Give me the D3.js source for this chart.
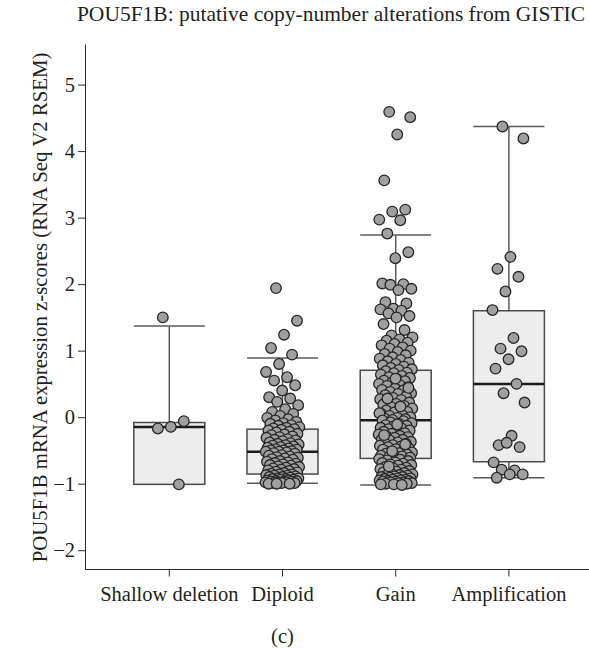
<!DOCTYPE html>
<html>
<head>
<meta charset="utf-8">
<script src="https://cdn.jsdelivr.net/npm/d3@7"></script>
<style>
  body { margin: 0; background: #fff; }
  svg { display: block; }
  text { font-family: "Liberation Serif", "Times New Roman", serif; fill: #231f20; }
</style>
</head>
<body>
<svg id="chart" width="589" height="650"></svg>
<script>
// categories and box statistics
const categories = ["Shallow deletion", "Diploid", "Gain", "Amplification"];
const q1 = [-1.01, -0.855, -0.62, -0.67];
const medians = [-0.146, -0.52, -0.045, 0.50];
const q3 = [-0.08, -0.18, 0.705, 1.60];
const whiskerLow = [-1.01, -0.995, -1.02, -0.91];
const whiskerHigh = [1.37, 0.89, 2.74, 4.37];
const yTicks = [-2, -1, 0, 1, 2, 3, 4, 5];

// per-sample z-scores (estimated from the dot clouds)
const shallowDeletion = [1.50, -0.06, -0.146, -0.17, -1.01];
const diploid = [
  1.94, 1.45, 1.24, 1.04, 0.94, 0.80, 0.68, 0.60, 0.55, 0.48, 0.40, 0.30, 0.28, 0.23, 0.18, 0.12,
  0.08, 0.05, 0.02, -0.01, -0.03, -0.05, -0.07, -0.09, -0.10, -0.12, -0.13, -0.15, -0.16, -0.17, -0.18, -0.19,
  -0.20, -0.22, -0.23, -0.25, -0.26, -0.27, -0.29, -0.30, -0.31, -0.33, -0.34, -0.35, -0.36, -0.38, -0.39,
  -0.40, -0.41, -0.42, -0.43, -0.44, -0.45, -0.46, -0.47, -0.48, -0.49, -0.50, -0.50, -0.51, -0.52, -0.52,
  -0.53, -0.54, -0.55, -0.57, -0.58, -0.59, -0.60, -0.61, -0.62, -0.63, -0.64, -0.66, -0.67, -0.68, -0.69,
  -0.70, -0.71, -0.72, -0.73, -0.74, -0.75, -0.76, -0.77, -0.78, -0.79, -0.80, -0.81, -0.82, -0.83, -0.84, -0.85,
  -0.86, -0.86, -0.87, -0.88, -0.88, -0.89, -0.90, -0.90, -0.91, -0.92, -0.92, -0.93, -0.93, -0.94, -0.94,
  -0.95, -0.95, -0.96, -0.96, -0.97, -0.97, -0.97, -0.98, -0.98, -0.98, -0.99, -0.99, -0.99, -1.00, -1.00, -1.00
];
const gain = [
  4.59, 4.51, 4.25, 3.56, 3.12, 3.09, 2.97, 2.96, 2.76, 2.48, 2.39, 2.01, 2.00, 1.99, 1.93, 1.91, 1.73, 1.71,
  1.63, 1.62, 1.60, 1.56, 1.52, 1.50, 1.40, 1.31,
  1.23, 1.20, 1.17, 1.15, 1.12, 1.10, 1.08, 1.05, 1.03, 1.00, 0.98, 0.95, 0.93, 0.90, 0.88, 0.86, 0.84, 0.82,
  0.80, 0.78, 0.76, 0.74, 0.72, 0.71,
  0.69, 0.67, 0.66, 0.64, 0.62, 0.60, 0.59, 0.57, 0.55, 0.54, 0.52, 0.50, 0.48, 0.47, 0.45, 0.43, 0.41, 0.40,
  0.38, 0.36, 0.35, 0.33, 0.31, 0.29, 0.27, 0.26, 0.24, 0.22, 0.20, 0.19, 0.17, 0.15, 0.13, 0.12, 0.10, 0.08,
  0.07, 0.05, 0.03, 0.02, 0.00, -0.01, -0.02, -0.03, -0.04, 0.06, 0.16, 0.28, 0.44, 0.58,
  -0.05, -0.06, -0.08, -0.09, -0.10, -0.12, -0.13, -0.14, -0.16, -0.17, -0.18, -0.20, -0.21, -0.22, -0.24,
  -0.25, -0.26, -0.28, -0.29, -0.30, -0.31, -0.33, -0.34, -0.35, -0.37, -0.38, -0.39, -0.40, -0.42, -0.43,
  -0.44, -0.45, -0.47, -0.48, -0.49, -0.50, -0.52, -0.53, -0.54, -0.55, -0.56, -0.57, -0.58, -0.59, -0.60,
  -0.61, -0.11, -0.27, -0.41, -0.51,
  -0.63, -0.64, -0.65, -0.66, -0.68, -0.69, -0.70, -0.71, -0.72, -0.73, -0.75, -0.76, -0.77, -0.78, -0.79,
  -0.80, -0.81, -0.82, -0.83, -0.84, -0.85, -0.86, -0.87, -0.88, -0.88, -0.89, -0.90, -0.90, -0.91, -0.92,
  -0.92, -0.93, -0.94, -0.94, -0.95, -0.95, -0.96, -0.96, -0.97, -0.97, -0.98, -0.98, -0.99, -0.99, -1.00,
  -1.00, -1.01, -1.01, -1.02, -0.74
];
const amplification = [
  4.37, 4.19, 2.41, 2.23, 2.11, 1.89, 1.61, 1.19, 1.03, 0.99, 0.87, 0.73, 0.50, 0.36, 0.22,
  -0.28, -0.42, -0.45, -0.385, -0.68, -0.80, -0.79, -0.86, -0.86, -0.91
];
const samples = [shallowDeletion, diploid, gain, amplification];

const svg = d3.select("#chart");

const x = d3.scaleBand()
  .domain(categories)
  .range([112.7, 565.5]);

const y = d3.scaleLinear()
  .domain([-2.29, 5.61])
  .range([569.5, 44]);

const boxW = 71;
const jitter = 17;
const axisColor = "#2b2b2b";
const labelSize = "20.5px";

// title
svg.append("text")
  .attr("x", 331)
  .attr("y", 21)
  .attr("text-anchor", "middle")
  .style("font-size", "21.5px")
  .text("POU5F1B: putative copy-number alterations from GISTIC");

// y axis
const yAxis = svg.append("g")
  .attr("transform", "translate(85,0)")
  .call(d3.axisLeft(y).tickValues(yTicks).tickSize(7).tickSizeOuter(0).tickPadding(3)
    .tickFormat(d => d < 0 ? "\u2212" + Math.abs(d) : d));
yAxis.select(".domain").attr("stroke", axisColor);
yAxis.selectAll(".tick line").attr("stroke", axisColor);
yAxis.selectAll(".tick text").style("font-size", labelSize).attr("fill", "#231f20").style("font-family", null);

// x axis
const xAxis = svg.append("g")
  .attr("transform", "translate(0,569.5)")
  .call(d3.axisBottom(x).tickSize(7).tickSizeOuter(0).tickPadding(10));
xAxis.select(".domain").remove();
xAxis.selectAll(".tick line").attr("stroke", axisColor);
xAxis.selectAll(".tick text").style("font-size", labelSize).attr("fill", "#231f20").style("font-family", null);
svg.append("line")
  .attr("x1", 85).attr("x2", 589)
  .attr("y1", 569.5).attr("y2", 569.5)
  .attr("stroke", axisColor);

// y axis label
svg.append("text")
  .attr("transform", "translate(47," + y(1.65) + ") rotate(-90)")
  .attr("text-anchor", "middle")
  .style("font-size", "20.8px")
  .text("POU5F1B mRNA expression z-scores (RNA Seq V2 RSEM)");

// panel tag
svg.append("text")
  .attr("x", x("Diploid") + x.bandwidth() / 2)
  .attr("y", 643)
  .attr("text-anchor", "middle")
  .style("font-size", labelSize)
  .text("(c)");

// boxes
const boxes = svg.append("g")
  .selectAll("g")
  .data(categories)
  .join("g")
  .attr("transform", d => "translate(" + (x(d) + x.bandwidth() / 2) + ",0)");

boxes.append("line")
  .attr("y1", (d, i) => y(whiskerHigh[i]))
  .attr("y2", (d, i) => y(q3[i]))
  .attr("stroke", "#5a5a5a").attr("stroke-width", 1.5);
boxes.append("line")
  .attr("y1", (d, i) => y(q1[i]))
  .attr("y2", (d, i) => y(whiskerLow[i]))
  .attr("stroke", "#5a5a5a").attr("stroke-width", 1.5);
boxes.append("line")
  .attr("x1", -boxW / 2).attr("x2", boxW / 2)
  .attr("y1", (d, i) => y(whiskerHigh[i]))
  .attr("y2", (d, i) => y(whiskerHigh[i]))
  .attr("stroke", "#5a5a5a").attr("stroke-width", 1.5);
boxes.append("line")
  .attr("x1", -boxW / 2).attr("x2", boxW / 2)
  .attr("y1", (d, i) => y(whiskerLow[i]))
  .attr("y2", (d, i) => y(whiskerLow[i]))
  .attr("stroke", "#5a5a5a").attr("stroke-width", 1.5);
boxes.append("rect")
  .attr("x", -boxW / 2)
  .attr("width", boxW)
  .attr("y", (d, i) => y(q3[i]))
  .attr("height", (d, i) => y(q1[i]) - y(q3[i]))
  .attr("fill", "#ededed")
  .attr("stroke", "#4a4a4a").attr("stroke-width", 1.5);
boxes.append("line")
  .attr("x1", -boxW / 2).attr("x2", boxW / 2)
  .attr("y1", (d, i) => y(medians[i]))
  .attr("y2", (d, i) => y(medians[i]))
  .attr("stroke", "#1a1a1a").attr("stroke-width", 2.5);

// dots, spread sideways with a fixed golden-ratio sequence
const dots = svg.append("g");
samples.forEach((vals, gi) => {
  const cx = x(categories[gi]) + x.bandwidth() / 2;
  dots.selectAll(null)
    .data(vals)
    .join("circle")
    .attr("cx", (d, i) => cx + (((i + 0.5) * 0.618034) % 1 - 0.5) * 2 * jitter)
    .attr("cy", d => y(d))
    .attr("r", 5.3)
    .attr("fill", "#a0a0a0")
    .attr("stroke", "#262626")
    .attr("stroke-width", 1.3);
});
</script>
</body>
</html>
